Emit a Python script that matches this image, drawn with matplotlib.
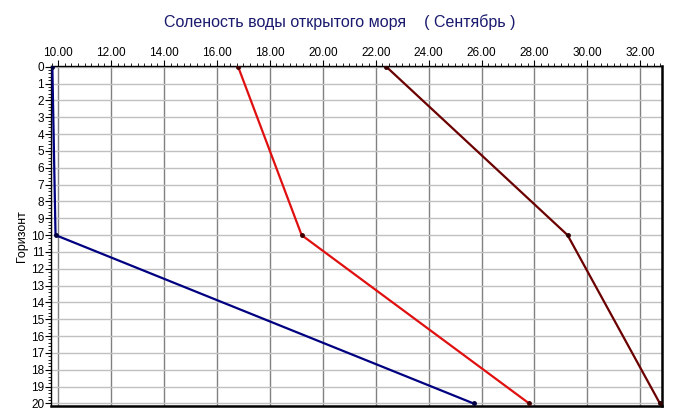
import matplotlib.pyplot as plt
from matplotlib.ticker import MultipleLocator, FormatStrFormatter

plt.rcParams['font.family'] = ['Liberation Sans', 'DejaVu Sans']

# горизонты и соленость по трем рядам
depth = [0, 10, 20]
series_navy = [9.78, 9.9, 25.7]
series_red = [16.8, 19.2, 27.8]
series_maroon = [22.4, 29.25, 32.74]

fig = plt.figure(figsize=(6.75, 4.19), dpi=100)
ax = fig.add_axes([0.0756, 0.031, 0.9044, 0.8126])

ax.plot(series_navy, depth, color='#000080', lw=1.6, marker='o', ms=2.5,
        mfc='#000040', mec='#000040', zorder=3)
ax.plot(series_red, depth, color='#e01010', lw=1.6, marker='o', ms=2.5,
        mfc='#400000', mec='#400000', zorder=3)
ax.plot(series_maroon, depth, color='#6b0000', lw=1.6, marker='o', ms=2.5,
        mfc='#300000', mec='#300000', zorder=3)

ax.set_xlim(9.73, 32.8)
ax.set_ylim(20.15, -0.07)

ax.xaxis.tick_top()
ax.xaxis.set_major_locator(MultipleLocator(2))
ax.xaxis.set_minor_locator(MultipleLocator(0.25))
ax.xaxis.set_major_formatter(FormatStrFormatter('%.2f'))
ax.yaxis.set_major_locator(MultipleLocator(1))
ax.yaxis.set_minor_locator(MultipleLocator(0.2))

ax.tick_params(axis='both', which='major', labelsize=8.5, length=4, width=0.8, pad=1)
ax.tick_params(axis='both', which='minor', length=2, width=0.6)

ax.grid(axis='x', which='major', color='#808080', lw=1)
ax.grid(axis='y', which='major', color='#c0c0c0', lw=1)
ax.set_axisbelow(True)

for s in ax.spines.values():
    s.set_color('black')
    s.set_linewidth(1)
ax.spines['bottom'].set_linewidth(1.8)
ax.spines['right'].set_linewidth(1.8)

ax.set_ylabel('Горизонт', fontsize=9, labelpad=2)
fig.text(0.503, 0.947, 'Соленость воды открытого моря    ( Сентябрь )',
         ha='center', va='center', fontsize=11.5, color='#1a1a6e')

fig.savefig('out.png', dpi=100)
